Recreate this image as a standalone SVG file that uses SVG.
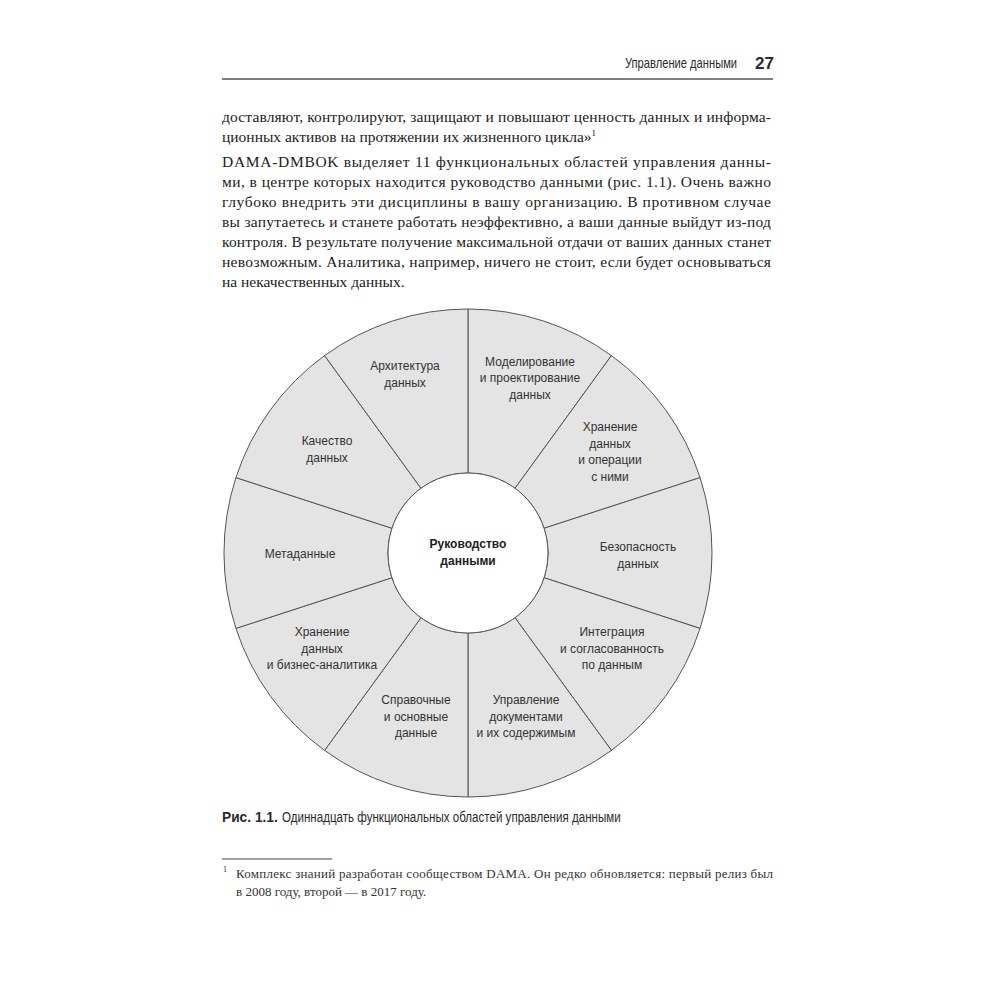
<svg xmlns="http://www.w3.org/2000/svg" width="1000" height="1000" viewBox="0 0 1000 1000">
<style>
.body{font-family:"Liberation Serif","DejaVu Serif",serif;font-size:15.5px;fill:#222}
.fn{font-family:"Liberation Serif","DejaVu Serif",serif;font-size:13px;fill:#333}
.hdr{font-family:"Liberation Sans","DejaVu Sans",sans-serif;fill:#2b2b2b}
.sec{fill:#e4e4e4;stroke:#555;stroke-width:1}
.lbl{font-family:"Liberation Sans","DejaVu Sans",sans-serif;font-size:12px;fill:#333;text-anchor:middle}
.ctr{font-family:"Liberation Sans","DejaVu Sans",sans-serif;font-size:12px;font-weight:bold;fill:#222;text-anchor:middle}
.rule{stroke:#555;stroke-width:1.3}
</style>
<rect width="1000" height="1000" fill="#ffffff"/>

<!-- header -->
<g id="header">
<text class="hdr" transform="translate(625,68) scale(0.83,1)" x="0" y="0" font-size="14" textLength="135" lengthAdjust="spacingAndGlyphs">Управление данными</text>
<text class="hdr" x="755" y="69" font-size="17" font-weight="bold">27</text>
<line class="rule" x1="222" y1="79" x2="773" y2="79"/>
</g>

<!-- body text -->
<g id="body-text">
<text class="body" x="222" y="122" textLength="549" lengthAdjust="spacing">доставляют, контролируют, защищают и повышают ценность данных и информа-</text>
<text class="body" x="222" y="142">ционных активов на протяжении их жизненного цикла»<tspan style="font-size:9px" dy="-6">1</tspan></text>
<text class="body" x="222" y="167" textLength="549" lengthAdjust="spacing">DAMA-DMBOK выделяет 11 функциональных областей управления данны-</text>
<text class="body" x="222" y="187" textLength="549" lengthAdjust="spacing">ми, в центре которых находится руководство данными (рис. 1.1). Очень важно</text>
<text class="body" x="222" y="207" textLength="549" lengthAdjust="spacing">глубоко внедрить эти дисциплины в вашу организацию. В противном случае</text>
<text class="body" x="222" y="227" textLength="549" lengthAdjust="spacing">вы запутаетесь и станете работать неэффективно, а ваши данные выйдут из-под</text>
<text class="body" x="222" y="247" textLength="549" lengthAdjust="spacing">контроля. В результате получение максимальной отдачи от ваших данных станет</text>
<text class="body" x="222" y="267" textLength="549" lengthAdjust="spacing">невозможным. Аналитика, например, ничего не стоит, если будет основываться</text>
<text class="body" x="222" y="287">на некачественных данных.</text>
</g>

<!-- wheel -->
<g id="sector-modeling">
<path class="sec" d="M468 473 L468 309 A244 244 0 0 1 611.42 355.6 L515.02 488.28 A80 80 0 0 0 468 473 Z"/>
<text class="lbl"><tspan x="530" y="365.5">Моделирование</tspan><tspan x="530" y="382">и проектирование</tspan><tspan x="530" y="398.5">данных</tspan></text>
</g>
<g id="sector-storage-ops">
<path class="sec" d="M515.02 488.28 L611.42 355.6 A244 244 0 0 1 700.07 477.6 L544.09 528.28 A80 80 0 0 0 515.02 488.28 Z"/>
<text class="lbl"><tspan x="610" y="431">Хранение</tspan><tspan x="610" y="447.5">данных</tspan><tspan x="610" y="464">и операции</tspan><tspan x="610" y="480.5">с ними</tspan></text>
</g>
<g id="sector-security">
<path class="sec" d="M544.09 528.28 L700.07 477.6 A244 244 0 0 1 700.07 628.4 L544.09 577.72 A80 80 0 0 0 544.09 528.28 Z"/>
<text class="lbl"><tspan x="638" y="551">Безопасность</tspan><tspan x="638" y="567.5">данных</tspan></text>
</g>
<g id="sector-integration">
<path class="sec" d="M544.09 577.72 L700.07 628.4 A244 244 0 0 1 611.42 750.4 L515.02 617.72 A80 80 0 0 0 544.09 577.72 Z"/>
<text class="lbl"><tspan x="612" y="636">Интеграция</tspan><tspan x="612" y="652.5">и согласованность</tspan><tspan x="612" y="669">по данным</tspan></text>
</g>
<g id="sector-documents">
<path class="sec" d="M515.02 617.72 L611.42 750.4 A244 244 0 0 1 468 797 L468 633 A80 80 0 0 0 515.02 617.72 Z"/>
<text class="lbl"><tspan x="526" y="704">Управление</tspan><tspan x="526" y="720.5">документами</tspan><tspan x="526" y="737">и их содержимым</tspan></text>
</g>
<g id="sector-reference">
<path class="sec" d="M468 633 L468 797 A244 244 0 0 1 324.58 750.4 L420.98 617.72 A80 80 0 0 0 468 633 Z"/>
<text class="lbl"><tspan x="416" y="704">Справочные</tspan><tspan x="416" y="720.5">и основные</tspan><tspan x="416" y="737">данные</tspan></text>
</g>
<g id="sector-warehousing">
<path class="sec" d="M420.98 617.72 L324.58 750.4 A244 244 0 0 1 235.93 628.4 L391.91 577.72 A80 80 0 0 0 420.98 617.72 Z"/>
<text class="lbl"><tspan x="322" y="636">Хранение</tspan><tspan x="322" y="652.5">данных</tspan><tspan x="322" y="669">и бизнес-аналитика</tspan></text>
</g>
<g id="sector-metadata">
<path class="sec" d="M391.91 577.72 L235.93 628.4 A244 244 0 0 1 235.93 477.6 L391.91 528.28 A80 80 0 0 0 391.91 577.72 Z"/>
<text class="lbl" x="300" y="558">Метаданные</text>
</g>
<g id="sector-quality">
<path class="sec" d="M391.91 528.28 L235.93 477.6 A244 244 0 0 1 324.58 355.6 L420.98 488.28 A80 80 0 0 0 391.91 528.28 Z"/>
<text class="lbl"><tspan x="327" y="445">Качество</tspan><tspan x="327" y="461.5">данных</tspan></text>
</g>
<g id="sector-architecture">
<path class="sec" d="M420.98 488.28 L324.58 355.6 A244 244 0 0 1 468 309 L468 473 A80 80 0 0 0 420.98 488.28 Z"/>
<text class="lbl"><tspan x="405" y="370">Архитектура</tspan><tspan x="405" y="386.5">данных</tspan></text>
</g>
<g id="center-governance">
<circle cx="468" cy="553" r="80" fill="#ffffff" stroke="#555" stroke-width="1"/>
<text class="ctr"><tspan x="468" y="548">Руководство</tspan><tspan x="468" y="564.5">данными</tspan></text>
</g>

<!-- caption -->
<g id="caption">
<text class="hdr" transform="translate(222,822) scale(0.9,1)" x="0" y="0" font-size="14.5" font-weight="bold" textLength="62" lengthAdjust="spacingAndGlyphs">Рис. 1.1.</text>
<text class="hdr" transform="translate(282,822) scale(0.82,1)" x="0" y="0" font-size="14.5" textLength="413" lengthAdjust="spacingAndGlyphs">Одиннадцать функциональных областей управления данными</text>
</g>

<!-- footnote -->
<g id="footnote">
<line x1="222" y1="859" x2="332" y2="859" stroke="#444" stroke-width="1"/>
<text class="fn" x="223" y="872" style="font-size:8px">1</text>
<text class="fn" x="236" y="878" textLength="537" lengthAdjust="spacing">Комплекс знаний разработан сообществом DAMA. Он редко обновляется: первый релиз был</text>
<text class="fn" x="236" y="896">в 2008 году, второй — в 2017 году.</text>
</g>
</svg>
